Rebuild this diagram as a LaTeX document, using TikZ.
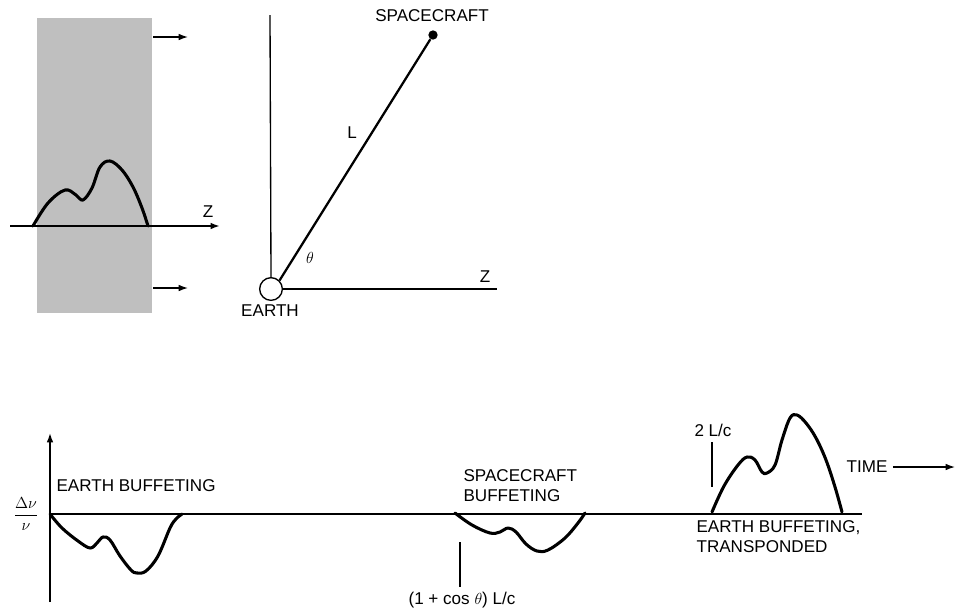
\documentclass[tikz,border=0pt]{standalone}
\usepackage{fontspec}
\setmainfont{Liberation Sans}
\usetikzlibrary{arrows.meta}
\begin{document}
\begin{tikzpicture}[x=0.75pt,y=-0.75pt,
  lbl/.style={font=\fontsize{12.8}{15}\selectfont, inner sep=1pt},
  axis/.style={line width=1pt},
  wave/.style={line width=2.3pt, line join=round, line cap=round},
  arr/.style={-{Latex[length=7pt,width=5pt]}},
  tick/.style={line width=0.9pt}]
\useasboundingbox (0,0) rectangle (956,611);
% ---- top left: shaded band ----
\fill[black!25] (37,18) rectangle (152,313);
\coordinate (ta1) at (153,37); \coordinate (ta2) at (188,37);
\coordinate (ba1) at (153,288); \coordinate (ba2) at (188,288);
\draw[axis,arr] (ta1) -- (ta2);
\draw[axis,arr] (ba1) -- (ba2);
\coordinate (z0) at (10,226); \coordinate (z1) at (220,226);
\draw[axis,line width=1.5pt,arr] (z0) -- (z1);
\node[lbl] (zl) at (208,212) {Z};
\draw[wave] plot[smooth,tension=0.6] coordinates {(33,226) (48,203) (65,190) (76,195) (83,200) (92,188) (100,167) (110,161) (122,170) (133,187) (142,208) (148,226)};
% ---- top middle: geometry ----
\node[circle,draw,line width=1pt,minimum size=17pt,inner sep=0pt,fill=white] (earth) at (271,289) {};
\coordinate (vt) at (270,15);
\draw[axis] (earth.north) -- (vt);
\coordinate (zt) at (497,289);
\draw[axis] (earth.east) -- (zt);
\node[circle,fill=black,inner sep=0pt,minimum size=7pt] (sc) at (433,35) {};
\draw[line width=1.7pt] (earth.45) -- (sc);
\node[lbl] (scl) at (432,16) {SPACECRAFT};
\node[lbl] (ll) at (352,133) {L};
\node[lbl] (th) at (310,258) {$\theta$};
\node[lbl] (zl2) at (485,277) {Z};
\node[lbl] (el) at (270,311) {EARTH};
% ---- bottom: time plot ----
\coordinate (y0) at (50,602); \coordinate (y1) at (50,433);
\draw[axis,line width=1.2pt,arr] (y0) -- (y1);
\coordinate (b0) at (50,514); \coordinate (b1) at (862,514);
\draw[axis,line width=1.4pt] (b0) -- (b1);
\node[lbl] (dnu) at (26,514) {$\displaystyle\frac{\Delta\nu}{\nu}$};
\node[lbl,anchor=west] (eb) at (55,486) {EARTH BUFFETING};
\draw[wave] plot[smooth,tension=0.6] coordinates {(50,514) (62,528) (78,541) (90,548) (97,543) (103,537) (110,540) (120,556) (131,570) (137,573) (146,571) (158,556) (170,528) (176,519) (182,514)};
% spacecraft buffeting
\node[lbl,anchor=west,align=left] (sb) at (462,486) {SPACECRAFT\\BUFFETING};
\draw[wave] plot[smooth,tension=0.6] coordinates {(455,513) (472,525) (490,533) (500,532) (508,528) (516,532) (526,544) (537,551) (548,550) (565,538) (578,523) (585,513)};
\coordinate (t1a) at (460,542); \coordinate (t1b) at (460,587);
\draw[tick] (t1a) -- (t1b);
\node[lbl] (cl) at (462,600) {(1 + cos $\theta$) L/c};
% transponded
\draw[wave] plot[smooth,tension=0.6] coordinates {(712,512) (724,486) (738,465) (747,457) (755,460) (762,472) (767,473) (775,465) (782,440) (790,418) (797,415) (806,423) (816,438) (826,460) (835,487) (842,512)};
\coordinate (t2a) at (712,442); \coordinate (t2b) at (712,487);
\draw[tick] (t2a) -- (t2b);
\node[lbl] (twol) at (713,430) {2 L/c};
\node[lbl,anchor=west,align=left] (ebt) at (695,537) {EARTH BUFFETING,\\TRANSPONDED};
\node[lbl] (time) at (867,467) {TIME};
\coordinate (tend) at (955,467);
\draw[axis,-{Latex[length=7pt,width=5pt]}] (time.east) ++(3pt,0) -- (tend);
\end{tikzpicture}
\end{document}
